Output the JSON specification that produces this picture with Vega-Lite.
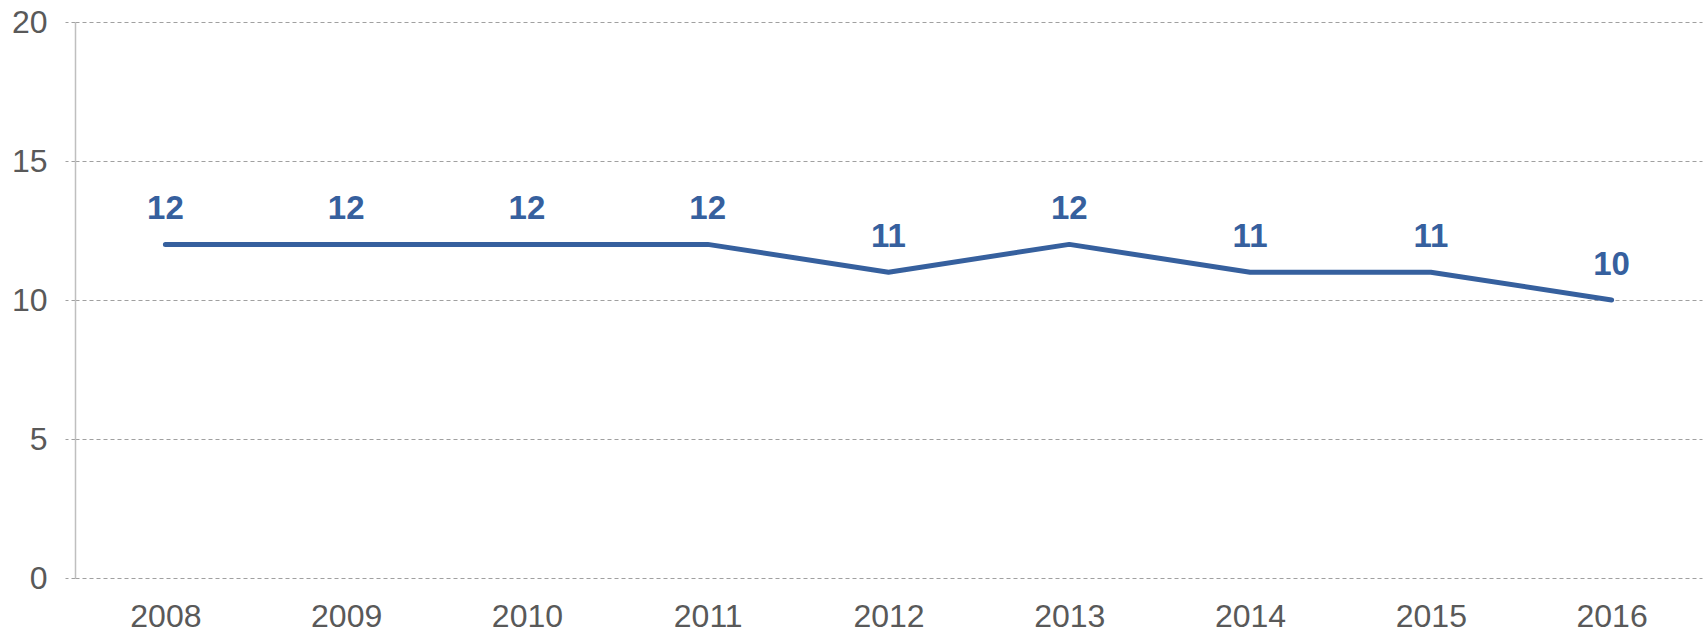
{
  "$schema": "https://vega.github.io/schema/vega-lite/v6.json",
  "autosize": "none",
  "width": 1627,
  "height": 556,
  "padding": {"left": 75, "top": 22, "right": 4, "bottom": 54},
  "background": "white",
  "config": {
    "view": {"stroke": null},
    "font": "Liberation Sans"
  },
  "data": {
    "values": [
      {"year": "2008", "value": 12},
      {"year": "2009", "value": 12},
      {"year": "2010", "value": 12},
      {"year": "2011", "value": 12},
      {"year": "2012", "value": 11},
      {"year": "2013", "value": 12},
      {"year": "2014", "value": 11},
      {"year": "2015", "value": 11},
      {"year": "2016", "value": 10}
    ]
  },
  "encoding": {
    "x": {
      "field": "year",
      "type": "ordinal",
      "scale": {"type": "point", "padding": 0.5},
      "axis": {
        "title": null,
        "labelAngle": 0,
        "labelFontSize": 32,
        "labelColor": "#595959",
        "labelFont": "Liberation Sans",
        "labelPadding": 23,
        "ticks": false,
        "domain": false,
        "grid": false
      }
    },
    "y": {
      "field": "value",
      "type": "quantitative",
      "scale": {"domain": [0, 20], "nice": false},
      "axis": {
        "title": null,
        "values": [0, 5, 10, 15, 20],
        "labelFontSize": 32,
        "labelColor": "#595959",
        "labelFont": "Liberation Sans",
        "labelPadding": 18,
        "tickSize": 10,
        "tickColor": "#a0a0a0",
        "tickDash": [4, 3],
        "grid": true,
        "gridColor": "#a0a0a0",
        "gridDash": [4, 3],
        "gridWidth": 1.2,
        "domain": true,
        "domainColor": "#bfbfbf",
        "domainWidth": 1.5
      }
    }
  },
  "layer": [
    {
      "mark": {"type": "line", "color": "#36609e", "strokeWidth": 5, "strokeCap": "round", "strokeJoin": "round"}
    },
    {
      "mark": {"type": "text", "fontSize": 33, "fontWeight": "bold", "color": "#36609e", "baseline": "alphabetic", "dy": -25, "font": "Liberation Sans"},
      "encoding": {"text": {"field": "value", "type": "quantitative"}}
    }
  ]
}
